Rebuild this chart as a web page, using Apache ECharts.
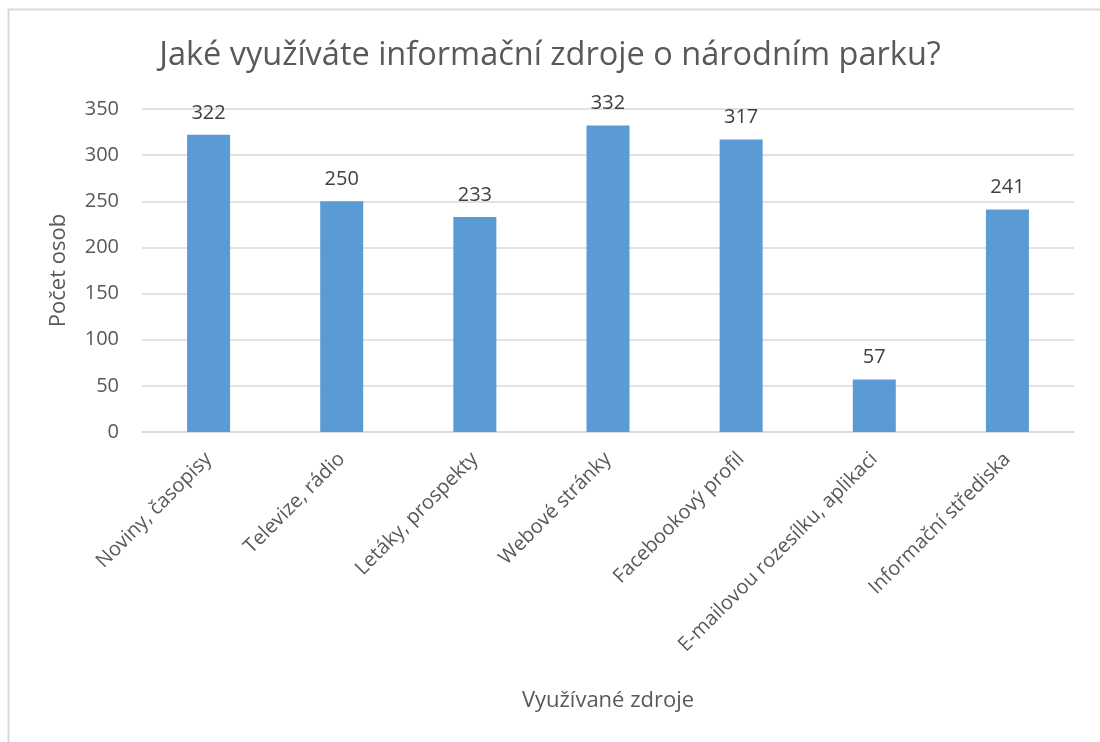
<!DOCTYPE html>
<html>
<head>
<meta charset="utf-8">
<script src="https://cdn.jsdelivr.net/npm/echarts@6/dist/echarts.min.js"></script>
<style>
    html, body { margin: 0; padding: 0; background: #fff; }
    #chart { width: 1100px; height: 742px; }
</style>
</head>
<body>
<div id="chart"></div>
<script>
var categories = ['Noviny, časopisy', 'Televize, rádio', 'Letáky, prospekty', 'Webové stránky',
    'Facebookový profil', 'E-mailovou rozesílku, aplikaci', 'Informační střediska'];
var values = [322, 250, 233, 332, 317, 57, 241];
var yTicks = [0, 50, 100, 150, 200, 250, 300, 350];

var font = '"Open Sans", "Noto Sans", sans-serif';
var grey = '#595959';

var myChart = echarts.init(document.getElementById('chart'));

var option = {
    animation: false,
    textStyle: { fontFamily: font },
    graphic: [{
        type: 'rect',
        shape: { x: 8.5, y: 9.5, width: 1120, height: 760 },
        style: { fill: 'none', stroke: '#d9d9d9', lineWidth: 2 }
    }],
    title: {
        text: 'Jaké využíváte informační zdroje o národním parku?',
        left: 'center',
        top: 34,
        textStyle: { fontFamily: font, fontSize: 32.5, fontWeight: 'normal', color: grey }
    },
    grid: { left: 142, right: 26, top: 109, bottom: 310 },
    xAxis: {
        type: 'category',
        data: categories,
        name: 'Využívané zdroje',
        nameLocation: 'middle',
        nameGap: 258,
        nameTextStyle: { fontFamily: font, fontSize: 22, color: grey },
        axisLine: { lineStyle: { color: '#d9d9d9', width: 1.5 } },
        axisTick: { show: false },
        axisLabel: { rotate: 45, interval: 0, fontSize: 20, color: grey, margin: 24 }
    },
    yAxis: {
        type: 'value',
        min: yTicks[0],
        max: yTicks[yTicks.length - 1],
        interval: 50,
        name: 'Počet osob',
        nameLocation: 'middle',
        nameGap: 72,
        nameTextStyle: { fontFamily: font, fontSize: 22, color: grey },
        axisLine: { show: false },
        axisTick: { show: false },
        axisLabel: { fontSize: 20, color: grey, margin: 23 },
        splitLine: { lineStyle: { color: '#d9d9d9', width: 1.5 } }
    },
    series: [{
        type: 'bar',
        data: values,
        barWidth: 43,
        itemStyle: { color: '#5b9bd5' },
        label: {
            show: true,
            position: 'top',
            distance: 12,
            fontSize: 20,
            color: '#404040'
        }
    }]
};

myChart.setOption(option);
</script>
</body>
</html>
